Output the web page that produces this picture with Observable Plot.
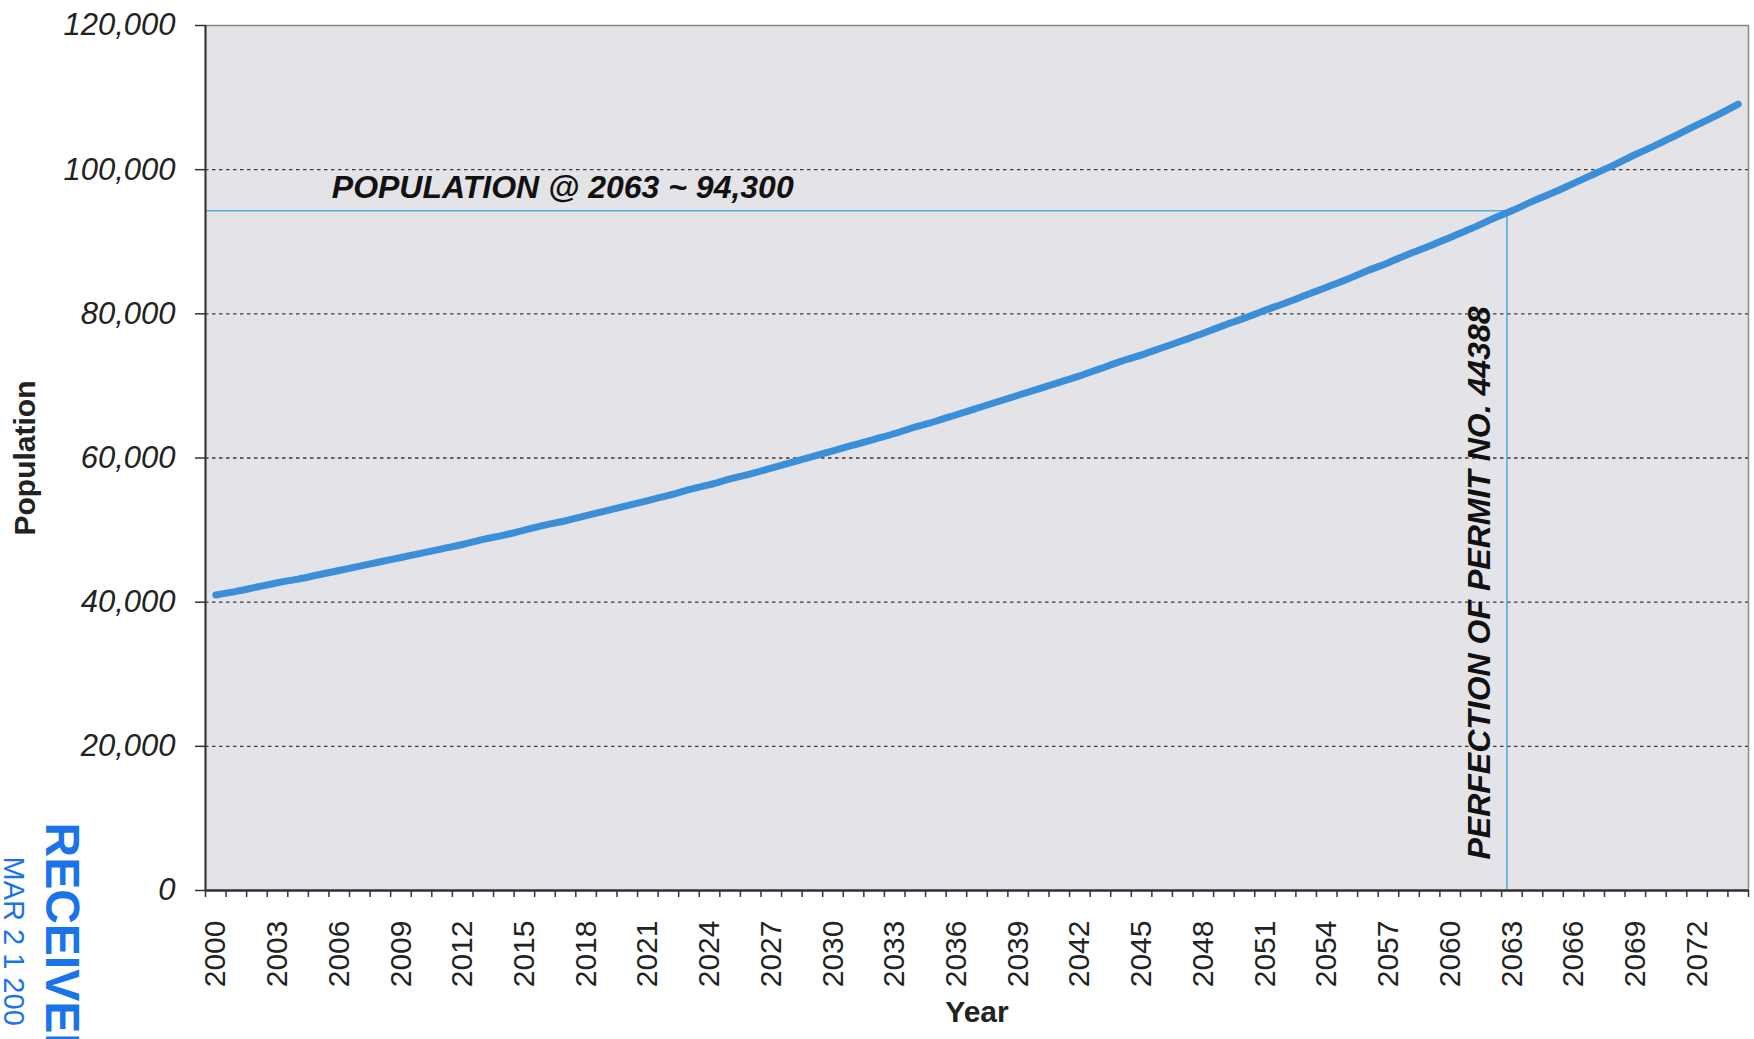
<!DOCTYPE html>
<html><head><meta charset="utf-8">
<script src="https://cdn.jsdelivr.net/npm/d3@7"></script>
<script src="https://cdn.jsdelivr.net/npm/@observablehq/plot@0.6"></script>
<style>
html,body{margin:0;padding:0;background:#fff;}
#chart{width:1754px;height:1039px;overflow:hidden;}
</style>
</head><body><div id="chart"></div>
<script>
// ---- data ----
const startYear = 2000;
const population = [
  41000, 41500, 42100, 42700, 43200, 43800, 44400, 45000, 45600, 46200,
  46800, 47400, 48000, 48700, 49300, 50000, 50700, 51300, 52000, 52700,
  53400, 54100, 54800, 55600, 56300, 57100, 57800, 58600, 59400, 60200,
  61000, 61800, 62600, 63400, 64300, 65100, 66000, 66900, 67800, 68700,
  69600, 70500, 71400, 72400, 73400, 74300, 75300, 76300, 77300, 78400,
  79400, 80500, 81500, 82600, 83700, 84800, 86000, 87100, 88300, 89400,
  90600, 91800, 93100, 94300, 95600, 96800, 98100, 99400, 100700, 102100,
  103400, 104800, 106200, 107600, 109100
];
const xTickLabels = [2000, 2003, 2006, 2009, 2012, 2015, 2018, 2021, 2024, 2027, 2030, 2033, 2036,
  2039, 2042, 2045, 2048, 2051, 2054, 2057, 2060, 2063, 2066, 2069, 2072];
const yTicks = [0, 20000, 40000, 60000, 80000, 100000, 120000];
const markerYear = 2063;
const markerPopulation = 94300;
const populationNote = "POPULATION @ 2063 ~ 94,300";
const permitNote = "PERFECTION OF PERMIT NO. 44388";
const xTitle = "Year";
const yTitle = "Population";
const stampWord = "RECEIVED";
const stampDate = "MAR 2 1 200";

// ---- derived table ----
const data = population.map((p, i) => ({year: startYear + i, pop: p}));
const years = data.map(d => d.year);
const boundaries = [...years.map(y => y - 0.5), years[years.length - 1] + 0.5];
const xMin = boundaries[0], xMax = boundaries[boundaries.length - 1];

const font = "'Liberation Sans', Arial, sans-serif";
const cyan = "#4fb0dd";

const chart = Plot.plot({
  width: 1754,
  height: 1039,
  marginTop: 25,
  marginRight: 6,
  marginBottom: 149,
  marginLeft: 205,
  style: {fontFamily: font, background: "white", overflow: "visible"},
  x: {domain: [xMin, xMax]},
  y: {domain: [yTicks[0], yTicks[yTicks.length - 1]]},
  marks: [
    Plot.frame({fill: "#e4e3e7", stroke: "none"}),
    Plot.gridY(yTicks.slice(1, -1), {stroke: "#3a3a3a", strokeOpacity: 1, strokeWidth: 1.3, strokeDasharray: "3.5,3.5"}),
    Plot.frame({stroke: "#8a8a8a", strokeWidth: 1.5}),
    Plot.ruleY([markerPopulation], {x1: xMin, x2: markerYear, dx: 0, stroke: cyan, strokeWidth: 1.6}),
    Plot.ruleX([markerYear], {y1: 0, y2: markerPopulation, dx: -5, stroke: cyan, strokeWidth: 1.6}),
    Plot.line(data, {x: "year", y: "pop", stroke: "#3b8fd8", strokeWidth: 7, curve: "monotone-x", strokeLinecap: "round"}),
    Plot.ruleY([0], {stroke: "#333", strokeWidth: 2.5}),
    Plot.ruleX([xMin], {stroke: "#333", strokeWidth: 2}),
    Plot.axisY(yTicks, {tickSize: 10, tickPadding: 20, tickFormat: d3.format(","), fontSize: 31, fontStyle: "italic", fill: "#222", stroke: "#333", strokeWidth: 1.5, label: null}),
    Plot.axisX(boundaries, {tickSize: 7, tickFormat: () => "", stroke: "#333", strokeWidth: 1.5, label: null}),
    Plot.axisX(xTickLabels, {tickSize: 0, tickPadding: 30, tickRotate: -90, fontSize: 30, fill: "#222", tickFormat: d => String(d), label: null}),
    Plot.text([populationNote], {x: () => years[0], y: () => markerPopulation, text: d => d, textAnchor: "start", lineAnchor: "bottom", dx: 116, dy: -13,
      fontSize: 32, fontWeight: "bold", fontStyle: "italic", fill: "#111"}),
    Plot.text([permitNote], {x: () => markerYear, y: () => 0, text: d => d, rotate: -90, textAnchor: "start", dx: -32, dy: -31,
      fontSize: 32, fontWeight: "bold", fontStyle: "italic", fill: "#111"}),
    Plot.text([yTitle], {frameAnchor: "left", text: d => d, rotate: -90, textAnchor: "middle", dx: -180, fontSize: 30, fontWeight: "bold", fill: "#222"}),
    Plot.text([xTitle], {frameAnchor: "bottom", text: d => d, dy: 131, fontSize: 30, fontWeight: "bold", fill: "#222"}),
    Plot.text([stampWord], {frameAnchor: "bottom-left", text: d => d, rotate: 90, textAnchor: "start", dx: -160, dy: -68,
      fontSize: 48, fontWeight: "bold", fill: "#1a74e8"}),
    Plot.text([stampDate], {frameAnchor: "bottom-left", text: d => d, rotate: 90, textAnchor: "start", dx: -202, dy: -34,
      fontSize: 29, fill: "#1a74e8"})
  ]
});
document.getElementById("chart").appendChild(chart);
</script>
</body></html>
